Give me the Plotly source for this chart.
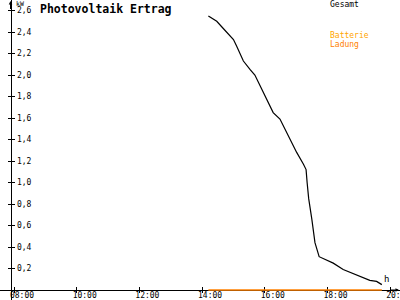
import plotly.graph_objects as go

# ---- data ----
times = ["14:12", "14:22", "14:28", "14:41", "15:00", "15:06", "15:19", "15:32", "15:41",
         "15:51", "16:04", "16:16", "16:29", "16:42", "17:01", "17:14", "17:19", "17:21",
         "17:24", "17:30", "17:36", "17:44", "17:52", "18:11", "18:30", "18:56", "19:21",
         "19:34", "19:44"]
gesamt = [2.55, 2.52, 2.50, 2.43, 2.33, 2.27, 2.13, 2.05, 2.00,
          1.90, 1.77, 1.65, 1.59, 1.46, 1.28, 1.17, 1.12, 1.00,
          0.85, 0.66, 0.44, 0.31, 0.29, 0.25, 0.19, 0.14, 0.09,
          0.08, 0.05]
ladung_times = ["14:12", "19:44"]
ladung = [0.0, 0.0]

x_tick_vals = [8, 10, 12, 14, 16, 18, 20]
x_tick_text = ["08:00", "10:00", "12:00", "14:00", "16:00", "18:00", "20:00"]
y_tick_vals = [0.2, 0.4, 0.6, 0.8, 1.0, 1.2, 1.4, 1.6, 1.8, 2.0, 2.2, 2.4, 2.6]
y_tick_text = ["0,2", "0,4", "0,6", "0,8", "1,0", "1,2", "1,4", "1,6", "1,8", "2,0", "2,2", "2,4", "2,6"]


def to_hours(t):
    h, m = t.split(":")
    return int(h) + int(m) / 60.0


W, H = 400, 300
PXH = 31.35      # pixels per hour
PXV = 107.5      # pixels per kW
X_ORIGIN_PX = 14.0   # pixel of 08:00
Y_ZERO_PX = 290.0    # pixel of 0 kW

x_range = [8 - X_ORIGIN_PX / PXH, 8 + (W - X_ORIGIN_PX) / PXH]
y_range = [-(H - Y_ZERO_PX) / PXV, Y_ZERO_PX / PXV]


def px(x):
    return x / W


def py(y):
    return 1 - y / H


FONT = "DejaVu Sans Mono"
ORANGE = "#FF8000"

fig = go.Figure()
fig.add_trace(go.Scatter(x=[to_hours(t) for t in times], y=gesamt, mode="lines",
                         line=dict(color="black", width=1.2), xaxis="x", yaxis="y",
                         showlegend=False, hoverinfo="skip"))
fig.add_trace(go.Scatter(x=[to_hours(t) for t in ladung_times], y=ladung, mode="lines",
                         line=dict(color=ORANGE, width=1.5), xaxis="x", yaxis="y",
                         showlegend=False, hoverinfo="skip", cliponaxis=False))

axis_common = dict(showgrid=False, zeroline=False, fixedrange=True, automargin=False)

fig.update_layout(
    width=W, height=H,
    margin=dict(l=0, r=0, t=0, b=0, pad=0),
    paper_bgcolor="white", plot_bgcolor="white",
    showlegend=False,
    font=dict(family=FONT, size=8, color="black"),
    xaxis=dict(**axis_common, domain=[0, 1], range=x_range, anchor="free",
               position=(H - 290) / H, layer="below traces",
               showline=True, linecolor="black", linewidth=1,
               tickmode="array", tickvals=x_tick_vals, ticktext=x_tick_text,
               ticks="outside", ticklen=2, tickcolor="black", tickwidth=1,
               tickfont=dict(family=FONT, size=8, color="black"),
               ticklabelshift=8, ticklabelstandoff=-5, ticklabeloverflow="allow"),
    xaxis2=dict(**axis_common, domain=[0, 1], range=x_range, anchor="free",
                position=(H - 290) / H, overlaying="x", layer="below traces",
                showline=False, tickmode="array", tickvals=x_tick_vals,
                ticks="inside", ticklen=3, tickcolor="black", tickwidth=1,
                showticklabels=False),
    yaxis=dict(**axis_common, domain=[0, 1], range=y_range, anchor="free",
               position=px(10.5), layer="below traces",
               showline=True, linecolor="black", linewidth=1,
               tickmode="array", tickvals=y_tick_vals, ticktext=y_tick_text,
               ticks="outside", ticklen=3, tickcolor="black", tickwidth=1,
               ticklabelposition="inside", ticklabelstandoff=4, ticklabeloverflow="allow",
               tickfont=dict(family=FONT, size=8, color="black")),
    yaxis2=dict(**axis_common, domain=[0, 1], range=y_range, anchor="free",
                position=px(10.5), overlaying="y", layer="below traces",
                showline=False, tickmode="array", tickvals=y_tick_vals,
                ticks="inside", ticklen=3, tickcolor="black", tickwidth=1,
                showticklabels=False),
)

# invisible trace to activate secondary axes
fig.add_trace(go.Scatter(x=[None], y=[None], xaxis="x2", yaxis="y2",
                         showlegend=False, hoverinfo="skip"))

annotations = [
    dict(text="<b>Photovoltaik Ertrag</b>", x=px(39), y=py(1), xanchor="left", yanchor="top",
         font=dict(family=FONT, size=11.5, color="black")),
    dict(text="kW", x=px(14.5), y=py(-0.5), xanchor="left", yanchor="top",
         font=dict(family=FONT, size=6.5, color="black")),
    dict(text="h", x=px(383), y=py(285), xanchor="left", yanchor="bottom",
         font=dict(family=FONT, size=9, color="black")),
    dict(text="Gesamt", x=px(329), y=py(4.5), xanchor="left", yanchor="middle",
         font=dict(family=FONT, size=8, color="black")),
    dict(text="Batterie", x=px(329), y=py(35.5), xanchor="left", yanchor="middle",
         font=dict(family=FONT, size=8, color="#FFA500")),
    dict(text="Ladung", x=px(329), y=py(44), xanchor="left", yanchor="middle",
         font=dict(family=FONT, size=8, color=ORANGE)),
]
for a in annotations:
    a.update(xref="paper", yref="paper", showarrow=False, borderpad=0)

# axis arrows
annotations.append(dict(x=px(10.5), y=py(0.5), ax=0, ay=10, xref="paper", yref="paper",
                        axref="pixel", ayref="pixel", showarrow=True, arrowhead=2,
                        arrowsize=0.7, arrowwidth=1, arrowcolor="black", text=""))
annotations.append(dict(x=px(399.5), y=py(290), ax=-10, ay=0, xref="paper", yref="paper",
                        axref="pixel", ayref="pixel", showarrow=True, arrowhead=2,
                        arrowsize=0.7, arrowwidth=1, arrowcolor="black", text=""))
fig.update_layout(annotations=annotations)

fig.write_html("out.html", config={"displayModeBar": False, "staticPlot": True})
